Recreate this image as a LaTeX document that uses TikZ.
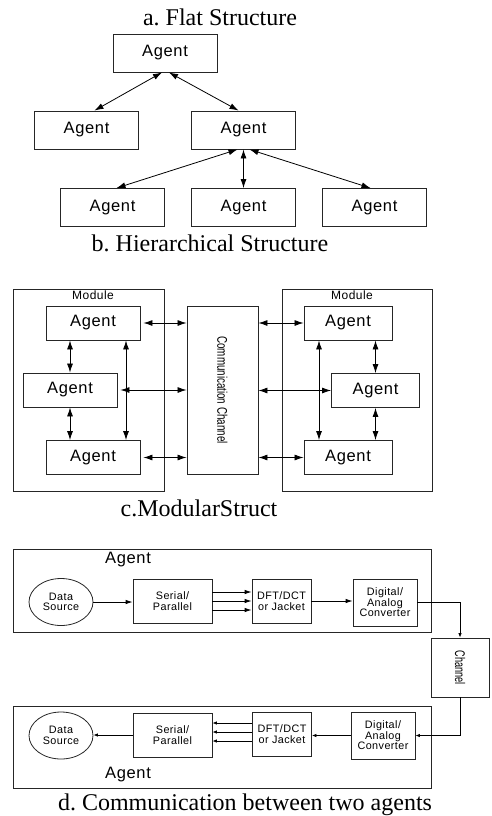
\documentclass[tikz,border=0pt]{standalone}
\usepackage{fontspec}
\setmainfont{Liberation Serif}
\newfontfamily\arialsp{Liberation Sans}[LetterSpace=4]
\newfontfamily\arialsm{Liberation Sans}[LetterSpace=4]
\newfontfamily\arialn{Liberation Sans}
\usetikzlibrary{arrows.meta,shapes.geometric}
\frenchspacing

\begin{document}
\begin{tikzpicture}[x=1pt,y=-1pt,
    title/.style={font=\fontsize{24}{28}\selectfont, inner sep=0},
    agent/.style={draw=black!85, line width=0.9pt, minimum width=104, minimum height=38, inner sep=0, font=\fontsize{16.5}{18}\arialsp},
    cagent/.style={agent, minimum width=94, minimum height=34},
    frame/.style={draw=black!85, line width=0.9pt, inner sep=0},
    lbl/.style={inner sep=0, font=\fontsize{12}{13}\arialsp},
    blk/.style={draw=black!85, line width=0.8pt, inner sep=0, align=center, font=\fontsize{10.8}{10.5}\arialsm},
    vtext/.style={rotate=-90, inner sep=0, font=\fontsize{14}{16}\arialn},
    biarrow/.style={{Latex[length=9pt,width=6pt]}-{Latex[length=9pt,width=6pt]}, line width=0.8pt},
    arr/.style={-{Latex[length=7pt,width=4.5pt]}, line width=0.8pt},
    sarr/.style={-{Latex[length=4.5pt,width=3.5pt]}, line width=0.8pt}]
\useasboundingbox (0,0) rectangle (491,816);

% a. / b.
\node[title] (ta) at (220,17) {a. Flat Structure};
\node[agent] (a0) at (165,53) {Agent};
\node[agent] (a1) at (86.5,130) {Agent};
\node[agent] (a2) at (243.5,130) {Agent};
\node[agent] (b1) at (112.5,207.5) {Agent};
\node[agent] (b2) at (243.5,207.5) {Agent};
\node[agent] (b3) at (374.5,207.5) {Agent};
\node[title] (tb) at (210,243) {b. Hierarchical Structure};

\draw[biarrow] ([xshift=-3]a0.south) -- ([xshift=8]a1.north);
\draw[biarrow] ([xshift=4]a0.south) -- ([xshift=-5]a2.north);
\draw[biarrow] ([xshift=-6]a2.south) -- ([xshift=4]b1.north);
\draw[biarrow] (a2.south) -- (b2.north);
\draw[biarrow] ([xshift=6]a2.south) -- ([xshift=-4]b3.north);

% c.
\node[frame, minimum width=151, minimum height=202] (m1) at (88.5,390) {};
\node[frame, minimum width=150, minimum height=202] (m2) at (357,390) {};
\node[lbl] (m1l) at (93,295) {Module};
\node[lbl] (m2l) at (352,295) {Module};
\node[frame, minimum width=71, minimum height=168] (ch) at (222.5,390) {};
\node[vtext] (cht) at (ch.center) {\scalebox{0.7}[1]{Communication Channel}};

\node[cagent] (c1) at (93,323) {Agent};
\node[cagent] (c2) at (70,390) {Agent};
\node[cagent] (c3) at (93,457.5) {Agent};
\node[cagent, minimum width=88] (d1) at (348,323) {Agent};
\node[cagent, minimum width=88] (d2) at (375.5,390.5) {Agent};
\node[cagent, minimum width=88] (d3) at (348,457.5) {Agent};
\node[title] (tc) at (199,508) {c.ModularStruct};

\draw[biarrow] ([xshift=3]c1.east) -- (c1.east -| ch.west);
\draw[biarrow] ([xshift=3]c2.east) -- (c2.east -| ch.west);
\draw[biarrow] ([xshift=3]c3.east) -- (c3.east -| ch.west);
\draw[biarrow] (c1.south -| c2.north) -- (c2.north);
\draw[biarrow] (c2.south) -- (c3.north -| c2.south);
\draw[biarrow] ([xshift=33]c1.south) -- ([xshift=33]c3.north);
\draw[biarrow] (d1.west -| ch.east) -- (d1.west);
\draw[biarrow] (d2.west -| ch.east) -- (d2.west);
\draw[biarrow] (d3.west -| ch.east) -- (d3.west);
\draw[biarrow] (d1.south -| d2.north) -- (d2.north);
\draw[biarrow] (d2.south) -- (d3.north -| d2.south);
\draw[biarrow] ([xshift=-29]d1.south) -- ([xshift=-29]d3.north);

% d.
\node[frame, minimum width=418, minimum height=83] (f1) at (222,590.5) {};
\node[frame, minimum width=418, minimum height=82] (f2) at (222,747) {};
\node[inner sep=0, font=\fontsize{16.5}{18}\arialsp] (f1l) at (128,560) {Agent};
\node[inner sep=0, font=\fontsize{16.5}{18}\arialsp] (f2l) at (128,775) {Agent};

\node[blk, ellipse, minimum width=64, minimum height=47] (ds1) at (61,602) {Data\\Source};
\node[blk, minimum width=79, minimum height=44] (sp1) at (172.5,601) {Serial/\\Parallel};
\node[blk, minimum width=59, minimum height=44] (dft1) at (281.5,601) {DFT/DCT\\or Jacket};
\node[blk, minimum width=64, minimum height=47] (dac1) at (385,602.5) {Digital/\\Analog\\Converter};
\node[blk, minimum width=58, minimum height=59] (chn) at (460,667.5) {};
\node[vtext] (chnt) at (chn.center) {\scalebox{0.65}[1]{Channel}};

\node[blk, ellipse, minimum width=64, minimum height=47] (ds2) at (61,735.5) {Data\\Source};
\node[blk, minimum width=79, minimum height=44] (sp2) at (172.5,735) {Serial/\\Parallel};
\node[blk, minimum width=59, minimum height=44] (dft2) at (282,734) {DFT/DCT\\or Jacket};
\node[blk, minimum width=64, minimum height=47] (dac2) at (383,735.5) {Digital/\\Analog\\Converter};
\node[title] (td) at (245,805) {d. Communication between two agents};

\draw[arr] (ds1.east) -- (ds1.east -| sp1.west);
\foreach \dy in {9,0,-9}
    \draw[arr] ([yshift=\dy]sp1.east) -- ([yshift=\dy]sp1.east -| dft1.west);
\draw[arr] (dft1.east) -- (dft1.east -| dac1.west);
\draw[sarr] (dac1.east) -| (chn.north);
\draw[sarr] (chn.south) |- (dac2.east);
\draw[sarr] (dac2.west) -- (dac2.west -| dft2.east);
\foreach \dy in {11,2,-7}
    \draw[sarr] ([yshift=\dy]dft2.west) -- ([yshift=\dy]dft2.west -| sp2.east);
\draw[sarr] (sp2.west) -- (sp2.west -| ds2.east);
\end{tikzpicture}
\end{document}
